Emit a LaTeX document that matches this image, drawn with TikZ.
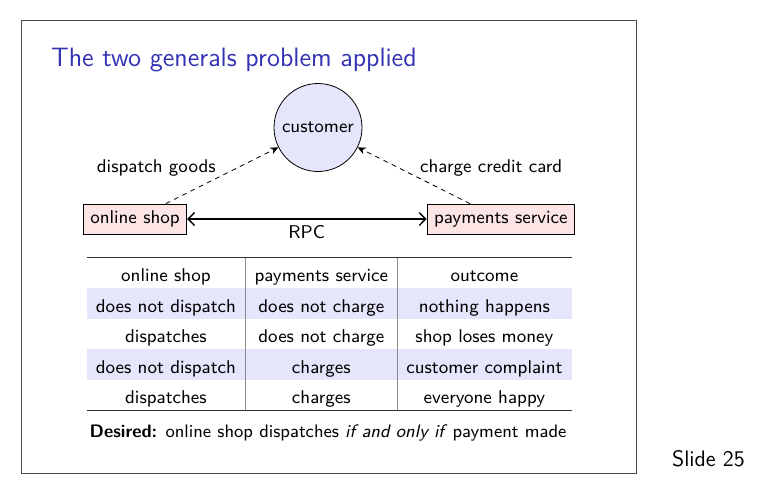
\documentclass[tikz,border=0pt]{standalone}
\usepackage{fontspec}
\usetikzlibrary{arrows.meta}
\definecolor{titleblue}{RGB}{51,51,179}
\definecolor{boxpink}{RGB}{253,229,229}
\definecolor{lavender}{RGB}{229,229,252}
\newcommand{\bodysize}{\fontsize{9.25}{11}\selectfont}
\begin{document}
\begin{tikzpicture}[x=0.5pt,y=-0.5pt,
  every node/.style={font=\sffamily\bodysize},
  slideframe/.style={draw=black!70, line width=0.5pt},
  party/.style={draw, fill=boxpink, line width=0.4pt, minimum height=15pt,
    inner xsep=3.5pt, inner ysep=0pt},
  person/.style={circle, draw, fill=lavender, line width=0.4pt,
    minimum size=44pt, inner sep=0pt},
  msg/.style={line width=0.4pt, dash pattern=on 2.4pt off 2.2pt,
    -{Stealth[length=4pt,width=3.6pt]}},
  rpc/.style={line width=0.7pt,
    {Straight Barb[length=3.2pt,width=6.5pt]}-{Straight Barb[length=3.2pt,width=6.5pt]}},
  txt/.style={anchor=base, inner sep=0pt},
  rowfill/.style={fill=lavender},
  colrule/.style={draw=black!45, line width=0.5pt},
  tabrule/.style={draw=black!80, line width=0.6pt}]

\useasboundingbox (0,0) rectangle (767,495);

% slide frame and heading
\draw[slideframe] (21,20.7) rectangle (636,473.3);
\node[anchor=base west, inner sep=0pt, text=titleblue,
  font=\sffamily\fontsize{13.3}{16}\selectfont] (title) at (50.7,66)
  {The two generals problem applied};

% parties
\node[person] (cust) at (318,127.5) {customer};
\node[party] (shop) at (135,219) {online shop};
\node[party] (pay) at (500.8,219) {payments service};

\draw[msg] (shop) -- (cust);
\draw[msg] (pay) -- (cust);
\draw[rpc] (shop) -- (pay);

\node[txt] (lblL) at (156.3,172) {dispatch goods};
\node[txt] (lblR) at (491.2,172) {charge credit card};
\node[txt] (lblRPC) at (306.7,238.3) {RPC};

% outcome table
\fill[rowfill] (86.7,288) rectangle (571.5,318.6);
\fill[rowfill] (86.7,349.2) rectangle (571.5,379.8);
\draw[colrule] (245,257.3) -- (245,410.5);
\draw[colrule] (397.7,257.3) -- (397.7,410.5);
\draw[tabrule] (86.7,257.3) -- (571.5,257.3);
\draw[tabrule] (86.7,410.5) -- (571.5,410.5);

\node[txt] (h1) at (165.9,281.5) {online shop};
\node[txt] (h2) at (321.3,281.5) {payments service};
\node[txt] (h3) at (484.4,281.5) {outcome};

\node[txt] (a1) at (165.9,312) {does not dispatch};
\node[txt] (a2) at (321.3,312) {does not charge};
\node[txt] (a3) at (484.4,312) {nothing happens};

\node[txt] (b1) at (165.9,342.5) {dispatches};
\node[txt] (b2) at (321.3,342.5) {does not charge};
\node[txt] (b3) at (484.4,342.5) {shop loses money};

\node[txt] (c1) at (165.9,373) {does not dispatch};
\node[txt] (c2) at (321.3,373) {charges};
\node[txt] (c3) at (484.4,373) {customer complaint};

\node[txt] (d1) at (165.9,403.2) {dispatches};
\node[txt] (d2) at (321.3,403.2) {charges};
\node[txt] (d3) at (484.4,403.2) {everyone happy};

% conclusion
\node[anchor=base west, inner sep=0pt,
  font=\sffamily\fontsize{9.05}{11}\selectfont] (desired) at (89.3,437.5)
  {\textbf{Desired:} online shop dispatches \textit{if and only if}\hspace{-0.6pt} payment made};

\node[anchor=base west, inner sep=0pt,
  font=\sffamily\fontsize{11.2}{13}\selectfont] (slideno) at (671.7,466.7) {Slide 25};
\end{tikzpicture}
\end{document}
